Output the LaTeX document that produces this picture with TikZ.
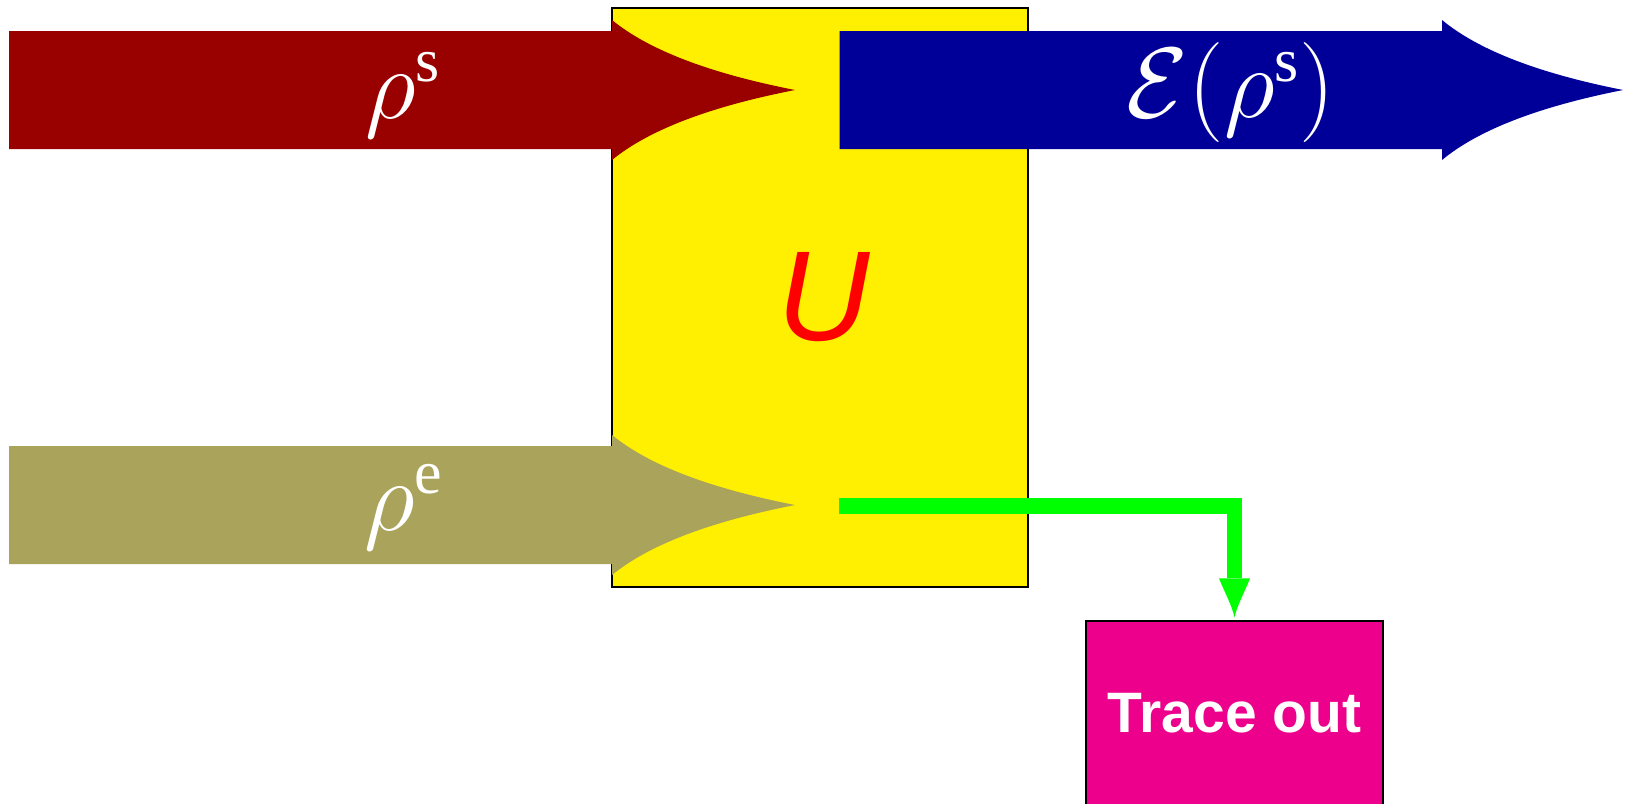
\RequirePackage{fix-cm}
\documentclass[tikz,border=0pt]{standalone}
\usepackage{amsmath}
\usepackage[no-math]{fontspec}
\newfontfamily\labelsans{Liberation Sans}
\newfontfamily\supserif{Liberation Serif}
\usetikzlibrary{calc}
\DeclareMathSizes{50}{50}{31}{25}

\definecolor{sysred}{RGB}{153,0,0}
\definecolor{chanblue}{RGB}{0,0,153}
\definecolor{envolive}{RGB}{170,163,91}
\definecolor{unitaryyellow}{RGB}{255,239,0}
\definecolor{traceline}{RGB}{0,255,0}
\definecolor{tracepink}{RGB}{236,0,140}

% Wide arrow with a concave head:
% #1 tail x, #2 head base x, #3 tip x, #4 centre y, #5 colour
\newcommand\fatarrow[5]{%
  \pgfmathsetmacro\headlen{#3-#2}%
  \fill[#5] (#1,#4-59) -- (#2,#4-59) -- (#2,#4-70)
    .. controls (#2+0.2*\headlen,#4-40) and (#3-0.467*\headlen,#4-16.7) .. (#3,#4)
    .. controls (#3-0.467*\headlen,#4+16.7) and (#2+0.2*\headlen,#4+40) .. (#2,#4+70)
    -- (#2,#4+59) -- (#1,#4+59) -- cycle;}

\newcommand\statelabel[1]{\text{\supserif #1}}

\tikzset{
  boxframe/.style={draw=black, line width=0.75pt, inner sep=0pt},
  mathlabel/.style={text=white, font=\fontsize{50}{55}\selectfont, inner sep=0pt},
}

\begin{document}
\begin{tikzpicture}[x=0.5pt,y=-0.5pt]
\useasboundingbox (0,0) rectangle (1625,803);

% unitary block
\node[boxframe, fill=unitaryyellow, minimum width=208pt, minimum height=289.5pt]
  (unitary) at (820,297.5) {};

% system, environment and output states
\fatarrow{9}{612}{795}{90}{sysred}
\fatarrow{9}{612}{795}{505}{envolive}
\fatarrow{839.5}{1442}{1623}{90}{chanblue}

\node[mathlabel] (rhos) at (403,95) {$\rho^{\statelabel{s}}$};
\node[mathlabel] (rhoe) at (404,507) {$\rho^{\statelabel{e}}$};
\node[mathlabel] (chanout) at (1231,93) {$\mathcal{E}(\rho^{\statelabel{s}})$};

\node[text=red, font=\labelsans\itshape\fontsize{64}{64}\selectfont, inner sep=0pt]
  (ulabel) at (824,297) {U};

% partial trace over the environment
\node[boxframe, fill=tracepink, minimum width=148.5pt, minimum height=92pt,
  text=white, font=\labelsans\bfseries\fontsize{28.5}{30}\selectfont]
  (trace) at (1234.5,713) {Trace out};

\coordinate (envout) at (839,506);
\coordinate (headbase) at ($(trace.north)+(0,-42)$);
\coordinate (headtip) at ($(trace.north)+(0,-3)$);
\draw[traceline, line width=7.85pt] (envout) -| (headbase);
\fill[traceline] ($(headbase)+(-15.5,0)$) -- ($(headbase)+(15.5,0)$)
  .. controls ($(headbase)+(10.5,13)$) and ($(headtip)+(3,-13)$) .. (headtip)
  .. controls ($(headtip)+(-3,-13)$) and ($(headbase)+(-10.5,13)$) .. cycle;
\end{tikzpicture}
\end{document}
